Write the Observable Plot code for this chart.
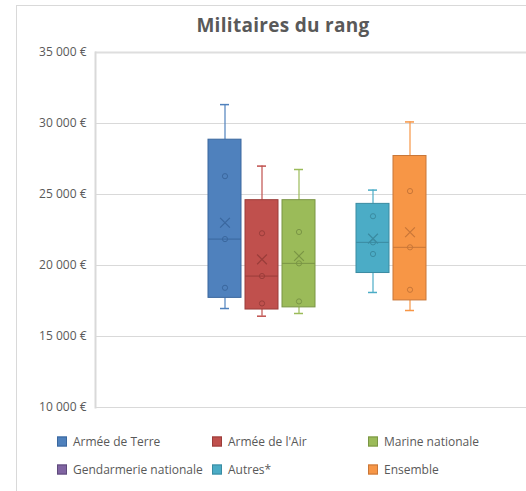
<!DOCTYPE html>
<html><head><meta charset="utf-8">
<script src="https://cdn.jsdelivr.net/npm/d3@7"></script>
<script src="https://cdn.jsdelivr.net/npm/@observablehq/plot@0.6"></script>
<style>
body{margin:0;background:#fff;width:526px;height:491px;overflow:hidden;position:relative;font-family:"Open Sans",sans-serif;}
#frame{position:absolute;left:16px;top:5px;width:700px;height:700px;border:1px solid #d9d9d9;}
#title{position:absolute;left:0;width:566px;top:13px;text-align:center;font:bold 19px "Open Sans",sans-serif;letter-spacing:0.3px;color:#595959;line-height:24px;}
#chart{position:absolute;left:0;top:0;}
.item{position:absolute;font-size:12px;color:#595959;display:flex;align-items:center;white-space:nowrap;transform:translateY(-50%);}
.sw{width:10px;height:10px;margin-right:6px;box-sizing:border-box;border:1px solid;}
</style></head>
<body>
<div id="frame"></div>
<div id="title">Militaires du rang</div>
<div id="chart"></div>
<div id="legend"></div>
<script>
const categories = ["Armée de Terre","Armée de l'Air","Marine nationale","Gendarmerie nationale","Autres*","Ensemble"];
const fills   = ["#4F81BD","#C0504D","#9BBB59","#8064A2","#4BACC6","#F79646"];
const strokes = ["#3A679E","#9A3D3A","#7A9545","#5E4A7A","#3A8BA1","#C87638"];
const mins    = [16970,16430,16620,null,18100,16830];
const q1s     = [17720,16900,17050,null,19470,17540];
const medians = [21860,19255,20150,null,21630,21280];
const q3s     = [28860,24600,24600,null,24340,27710];
const maxs    = [31330,27000,26760,null,25310,30110];
const means   = [23015,20430,20670,null,21890,22340];
const innerPoints = [[18430,21860,26290],[17330,19255,22270],[17470,20150,22360],[],[20810,21630,23470],[18290,21280,25240]];
const yTicks = [10000,15000,20000,25000,30000,35000];

const rows = categories.map((c,i)=>({cat:c,min:mins[i],q1:q1s[i],median:medians[i],q3:q3s[i],max:maxs[i],mean:means[i],fill:fills[i],stroke:strokes[i]})).filter(d=>d.min!=null);
const pts = categories.flatMap((c,i)=>innerPoints[i].map(v=>({cat:c,v,stroke:strokes[i]})));

const fmt = d => d3.format(",")(d).replace(/,/g," ") + " €";

const chart = Plot.plot({
  width:526, height:420,
  marginLeft:95, marginTop:52, marginBottom:13, marginRight:0,
  style:{fontFamily:"Open Sans, sans-serif", fontSize:"12px", color:"#595959", background:"transparent"},
  x:{type:"band", domain:categories, range:[206,428], paddingInner:0.1, paddingOuter:0, align:0.5, axis:null},
  y:{domain:[10000,35000]},
  marks:[
    Plot.ruleY(yTicks,{stroke:"#d9d9d9"}),
    Plot.ruleY([35000],{stroke:"#dedede",strokeWidth:2}),
    Plot.frame({anchor:"left",stroke:"#d9d9d9",strokeWidth:2}),
    Plot.axisY({ticks:yTicks,tickSize:0,tickPadding:9,tickFormat:fmt,label:null,fill:"#595959"}),
    Plot.ruleX(rows,{x:"cat",y1:"min",y2:"q1",stroke:"fill",strokeWidth:1.2}),
    Plot.ruleX(rows,{x:"cat",y1:"q3",y2:"max",stroke:"fill",strokeWidth:1.2}),
    Plot.tickY(rows,{x:"cat",y:"min",stroke:"fill",strokeWidth:1.5,insetLeft:12,insetRight:12}),
    Plot.tickY(rows,{x:"cat",y:"max",stroke:"fill",strokeWidth:1.5,insetLeft:12,insetRight:12}),
    Plot.barY(rows,{x:"cat",y1:"q1",y2:"q3",fill:"fill",stroke:"stroke",strokeWidth:1}),
    Plot.tickY(rows,{x:"cat",y:"median",stroke:"stroke",strokeWidth:1}),
    Plot.dot(rows,{x:"cat",y:"mean",symbol:"times",r:4.5,stroke:"stroke",strokeWidth:1.2}),
    Plot.dot(pts,{x:"cat",y:"v",r:2.6,stroke:"stroke",fill:"none",strokeWidth:1})
  ]
});
document.getElementById("chart").appendChild(chart);

const legendPos = [[57,441],[212,441],[368,441],[57,469],[212,469],[368,469]];
const lg = document.getElementById("legend");
categories.forEach((c,i)=>{
  const it = document.createElement("div");
  it.className="item";
  it.style.left = legendPos[i][0]+"px";
  it.style.top = legendPos[i][1]+"px";
  it.innerHTML = `<span class="sw" style="background:${fills[i]};border-color:${strokes[i]}"></span><span>${c}</span>`;
  lg.appendChild(it);
});
</script>
</body></html>
